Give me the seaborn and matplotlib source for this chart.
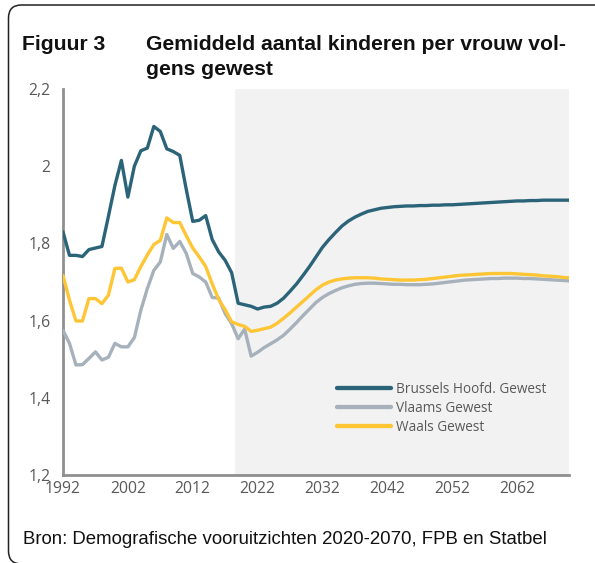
import matplotlib
matplotlib.use("Agg")
import matplotlib.pyplot as plt
import seaborn as sns
import pandas as pd
from matplotlib.patches import FancyBboxPatch
from matplotlib.transforms import IdentityTransform

# ---------------- data ----------------
years = list(range(1992, 2071))

brussel = [
    1.830, 1.769, 1.769, 1.766, 1.784, 1.788, 1.792, 1.870, 1.950, 2.015,   # 1992-2001
    1.920, 2.000, 2.040, 2.047, 2.103, 2.090, 2.045, 2.038, 2.028, 1.940,   # 2002-2011
    1.857, 1.860, 1.872, 1.810, 1.778, 1.756, 1.724, 1.645, 1.641, 1.637,   # 2012-2021
    1.630, 1.635, 1.637, 1.645, 1.658, 1.676, 1.695, 1.717, 1.740, 1.765,   # 2022-2031
    1.790, 1.810, 1.828, 1.845, 1.858, 1.868, 1.876, 1.883, 1.887, 1.891,   # 2032-2041
    1.893, 1.895, 1.896, 1.897, 1.897, 1.898, 1.898, 1.899, 1.899, 1.900,   # 2042-2051
    1.900, 1.901, 1.902, 1.903, 1.904, 1.905, 1.906, 1.907, 1.908, 1.909,   # 2052-2061
    1.910, 1.910, 1.911, 1.911, 1.912, 1.912, 1.912, 1.912, 1.912,          # 2062-2070
]

vlaams = [
    1.575, 1.541, 1.485, 1.486, 1.502, 1.519, 1.498, 1.505, 1.541, 1.532,
    1.532, 1.556, 1.627, 1.683, 1.730, 1.752, 1.823, 1.787, 1.805, 1.774,
    1.722, 1.713, 1.700, 1.660, 1.658, 1.618, 1.592, 1.553, 1.578, 1.508,
    1.518, 1.530, 1.540, 1.550, 1.562, 1.578, 1.595, 1.613, 1.630, 1.647,
    1.660, 1.670, 1.678, 1.685, 1.690, 1.694, 1.696, 1.697, 1.697, 1.696,
    1.695, 1.694, 1.694, 1.693, 1.693, 1.693, 1.694, 1.695, 1.697, 1.699,
    1.701, 1.703, 1.705, 1.706, 1.707, 1.708, 1.709, 1.709, 1.710, 1.710,
    1.710, 1.709, 1.709, 1.708, 1.707, 1.706, 1.705, 1.704, 1.703,
]

waals = [
    1.717, 1.653, 1.599, 1.599, 1.657, 1.657, 1.644, 1.666, 1.735, 1.736,
    1.700, 1.706, 1.740, 1.770, 1.797, 1.808, 1.866, 1.854, 1.854, 1.820,
    1.788, 1.765, 1.740, 1.695, 1.655, 1.628, 1.597, 1.590, 1.585, 1.572,
    1.575, 1.579, 1.583, 1.593, 1.606, 1.620, 1.635, 1.650, 1.665, 1.680,
    1.692, 1.700, 1.705, 1.708, 1.710, 1.711, 1.711, 1.711, 1.710, 1.708,
    1.707, 1.706, 1.705, 1.705, 1.705, 1.706, 1.707, 1.709, 1.711, 1.713,
    1.715, 1.717, 1.718, 1.719, 1.720, 1.721, 1.722, 1.722, 1.722, 1.722,
    1.721, 1.720, 1.719, 1.718, 1.716, 1.715, 1.714, 1.712, 1.711,
]

series_names = ["Brussels Hoofd. Gewest", "Vlaams Gewest", "Waals Gewest"]
series_colors = ["#2b6479", "#a7b1bc", "#fec535"]
xticks = [1992, 2002, 2012, 2022, 2032, 2042, 2052, 2062]
yticks = [1.2, 1.4, 1.6, 1.8, 2.0, 2.2]
ytick_labels = ["1,2", "1,4", "1,6", "1,8", "2", "2,2"]
projection_start = 2018.5

title_num = "Figuur 3"
title_lines = ["Gemiddeld aantal kinderen per vrouw vol-", "gens gewest"]
source_text = "Bron: Demografische vooruitzichten 2020-2070, FPB en Statbel"

df = pd.DataFrame({
    "jaar": years * 3,
    "waarde": brussel + vlaams + waals,
    "gewest": [series_names[0]] * len(years) + [series_names[1]] * len(years)
              + [series_names[2]] * len(years),
})

# ---------------- figure ----------------
sns.set_style("white")
plt.rcParams["font.family"] = ["Open Sans", "DejaVu Sans"]

W, H = 595, 563
fig = plt.figure(figsize=(W / 100, H / 100), dpi=100)
ax = fig.add_axes([63 / W, (H - 475) / H, (569 - 63) / W, (475 - 89) / H])

ax.axvspan(projection_start, 2070, color="#f2f2f2", zorder=0, lw=0)

sns.lineplot(data=df, x="jaar", y="waarde", hue="gewest",
             hue_order=series_names, palette=series_colors,
             linewidth=2.4, ax=ax, legend=False, zorder=3)

ax.set_xlim(1992, 2070)
ax.set_ylim(1.2, 2.2)
ax.set_xticks(xticks)
ax.set_xticklabels([str(x) for x in xticks])
ax.set_yticks(yticks)
ax.set_yticklabels(ytick_labels)
ax.set_xlabel("")
ax.set_ylabel("")

for s in ["top", "right"]:
    ax.spines[s].set_visible(False)
for s in ["left", "bottom"]:
    ax.spines[s].set_color("#8f8f8f")
    ax.spines[s].set_linewidth(2.0)
ax.tick_params(axis="both", which="major", direction="out", length=4,
               width=1.6, color="#8f8f8f", labelcolor="#595959",
               labelsize=11.3)
ax.tick_params(axis="y", pad=5)
ax.tick_params(axis="x", pad=0.5)
ax.grid(False)
ax.set_facecolor("white")

# legend
handles = [plt.Line2D([], [], color=c, lw=3.1) for c in series_colors]
leg = ax.legend(handles, series_names, loc="upper left",
                bbox_to_anchor=(337 / W, (H - 382) / H),
                bbox_transform=fig.transFigure, frameon=False,
                fontsize=9.8, handlelength=4.0, handletextpad=0.3,
                labelspacing=0.28, borderpad=0, borderaxespad=0)
for t in leg.get_texts():
    t.set_color("#595959")

# titles
tfont = ["Liberation Sans", "DejaVu Sans"]
t_num = fig.text(22 / W, (H - 50) / H, title_num, fontsize=14,
                 fontweight="bold", family=tfont, va="baseline", ha="left",
                 color="#111111")
t1 = fig.text(146 / W, (H - 50) / H, title_lines[0], fontsize=14,
              fontweight="bold", family=tfont, va="baseline", ha="left",
              color="#111111")
t2 = fig.text(146 / W, (H - 75) / H, title_lines[1], fontsize=14,
              fontweight="bold", family=tfont, va="baseline", ha="left",
              color="#111111")
src = fig.text(23 / W, (H - 544) / H, source_text, fontsize=12,
               family=tfont, va="baseline", ha="left", color="#111111")

# fit widths to the reference
fig.canvas.draw()
r = fig.canvas.get_renderer()
w1 = t1.get_window_extent(r).width
scale = (567 - 146) / w1
for t in (t_num, t1, t2):
    t.set_fontsize(t.get_fontsize() * scale)
ws = src.get_window_extent(r).width
src.set_fontsize(src.get_fontsize() * (548 - 23) / ws)

# rounded frame (right and bottom edges run past the canvas)
frame = FancyBboxPatch((8.5, -1.0), 640, 559.0,
                       boxstyle="round,pad=0,rounding_size=13",
                       transform=IdentityTransform(), fill=False,
                       edgecolor="#222222", lw=1.1)
fig.add_artist(frame)

fig.savefig("out.png", dpi=100)
